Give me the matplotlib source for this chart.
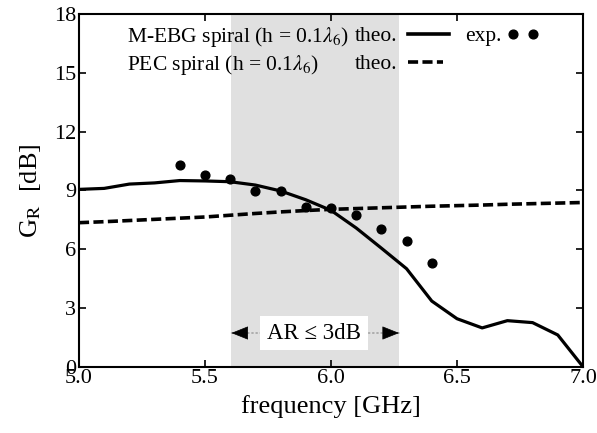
import matplotlib
matplotlib.use("Agg")
import matplotlib.pyplot as plt
from matplotlib.lines import Line2D

plt.rcParams['font.family'] = ['Liberation Serif', 'DejaVu Serif']
plt.rcParams['mathtext.fontset'] = 'stix'

# theory curve (M-EBG spiral)
freq_theo = [5.0, 5.1, 5.2, 5.3, 5.4, 5.5, 5.6, 5.7, 5.8, 5.9, 6.0,
             6.1, 6.2, 6.3, 6.4, 6.5, 6.6, 6.7, 6.8, 6.9, 7.0]
gain_ebg = [9.05, 9.10, 9.32, 9.38, 9.50, 9.48, 9.44, 9.27, 8.97, 8.52, 7.98,
            7.08, 6.05, 5.00, 3.35, 2.45, 1.98, 2.35, 2.25, 1.62, 0.0]
# theory curve (PEC spiral)
gain_pec = [7.35, 7.40, 7.46, 7.52, 7.58, 7.64, 7.73, 7.82, 7.90, 7.97, 8.03,
            8.07, 8.11, 8.15, 8.19, 8.22, 8.25, 8.29, 8.32, 8.35, 8.38]
# experiment
freq_exp = [5.4, 5.5, 5.6, 5.7, 5.8, 5.9, 6.0, 6.1, 6.2, 6.3, 6.4]
gain_exp = [10.29, 9.78, 9.59, 8.95, 8.98, 8.13, 8.08, 7.74, 7.01, 6.43, 5.28]
# AR <= 3 dB band
ar_band = [5.605, 6.27]

xticks = [5.0, 5.5, 6.0, 6.5, 7.0]
yticks = [0, 3, 6, 9, 12, 15, 18]

fig = plt.figure(figsize=(5.97, 4.33), dpi=100)
ax = fig.add_axes([0.1323, 0.1531, 0.8442, 0.8146])

ax.axvspan(ar_band[0], ar_band[1], color='#e0e0e0', lw=0, zorder=0)
ax.plot(freq_theo, gain_ebg, color='black', lw=2.3, zorder=3)
ax.plot(freq_theo, gain_pec, color='black', lw=2.6, dashes=(2.8, 1.2), zorder=3)
ax.plot(freq_exp, gain_exp, 'o', color='black', ms=6.3, zorder=4)

ax.set_xlim(5.0, 7.0)
ax.set_ylim(0, 18)
ax.set_xticks(xticks)
ax.set_xticklabels([f"{t:.1f}" for t in xticks])
ax.set_yticks(yticks)
ax.tick_params(direction='in', top=True, right=True, length=5, width=1.2,
               labelsize=16, pad=2)
for s in ax.spines.values():
    s.set_linewidth(1.5)

ax.set_xlabel('frequency [GHz]', fontsize=19, labelpad=5)
ax.set_ylabel(r'G$_\mathrm{R}$  [dB]', fontsize=19, labelpad=8)

# AR annotation: grey dotted line with black arrowheads
ymid = 1.72
ax.annotate('', xy=(ar_band[0], ymid), xytext=(ar_band[1], ymid),
            arrowprops=dict(arrowstyle='-', color='#999999', lw=1.0,
                            ls=(0, (1, 2)), shrinkA=0, shrinkB=0), zorder=2)
for end, start in ((ar_band[0], ar_band[0] + 0.045), (ar_band[1], ar_band[1] - 0.045)):
    ax.annotate('', xy=(end, ymid), xytext=(start, ymid),
                arrowprops=dict(arrowstyle='-|>,head_length=0.55,head_width=0.22',
                                fc='black', ec='black', lw=0.5,
                                mutation_scale=20, shrinkA=0, shrinkB=0), zorder=2)
ax.text(sum(ar_band) / 2 - 0.005, ymid, 'AR \u2264 3dB', fontsize=16.5,
        ha='center', va='center', zorder=5,
        bbox=dict(boxstyle='square,pad=0.3', fc='white', ec='none'))

# legend drawn manually
tr = ax.transAxes
fs_leg = 15.5
ax.text(0.095, 0.936, r'M-EBG spiral (h = 0.1$\lambda_6$)', transform=tr,
        fontsize=fs_leg, va='center', ha='left')
ax.text(0.548, 0.936, 'theo.', transform=tr, fontsize=fs_leg, va='center', ha='left')
ax.add_line(Line2D([0.652, 0.735], [0.944, 0.944], transform=tr, color='black', lw=2.6))
ax.text(0.766, 0.936, 'exp.', transform=tr, fontsize=fs_leg, va='center', ha='left')
ax.add_line(Line2D([0.861, 0.901], [0.944, 0.944], transform=tr, color='black',
                   marker='o', ls='none', ms=6.3))
ax.text(0.095, 0.856, r'PEC spiral (h = 0.1$\lambda_6$)', transform=tr,
        fontsize=fs_leg, va='center', ha='left')
ax.text(0.548, 0.856, 'theo.', transform=tr, fontsize=fs_leg, va='center', ha='left')
ax.add_line(Line2D([0.652, 0.722], [0.864, 0.864], transform=tr, color='black',
                   lw=2.6, dashes=(2.8, 1.2)))

fig.savefig('out.png', dpi=100)
